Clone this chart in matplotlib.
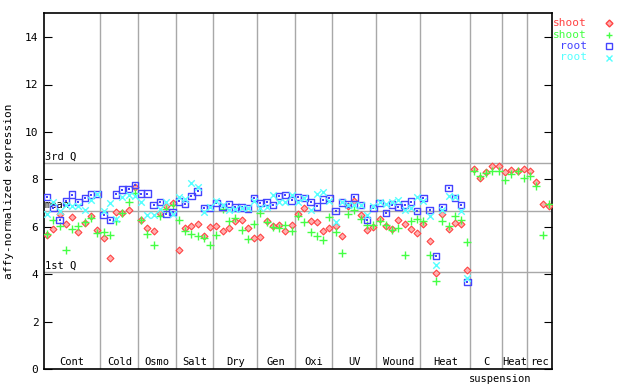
import numpy as np
import matplotlib
matplotlib.use("Agg")
import matplotlib.pyplot as plt

# group names and number of samples in each group
groups = ["Cont", "Cold", "Osmo", "Salt", "Dry", "Gen", "Oxi", "UV", "Wound", "Heat", "C", "Heat", "rec"]
group_sizes = [9, 6, 6, 6, 7, 6, 6, 7, 7, 8, 5, 4, 4]

nan = np.nan
shoot_a = [5.66, 5.92, 6.56, 6.13, 6.42, 5.78, 6.16, 6.45, 5.88,
           5.53, 4.68, 6.61, 6.58, 6.72, 7.70,
           6.30, 5.95, 5.81, 6.60, 6.86, 7.00,
           5.04, 5.95, 6.05, 6.14, 5.63, 5.99,
           6.05, 5.84, 5.95, 6.26, 6.30, 5.95, 5.53,
           5.57, 6.26, 6.05, 6.09, 5.84, 6.09,
           6.56, 6.80, 6.23, 6.20, 5.84, 5.95,
           6.05, 5.63, 6.89, 7.08, 6.51, 5.88, 5.99,
           6.34, 6.05, 5.92, 6.30, 6.13, 5.92, 5.75,
           6.13, 5.41, 4.05, 6.56, 5.91, 6.16, 6.13, 4.19,
           8.44, 8.06, 8.31, 8.55, 8.55,
           8.31, 8.41, 8.37, 8.44,
           8.37, 7.88, 6.98, 6.89]
shoot_b = [5.71, 6.28, 6.05, 5.04, 5.92, 6.05, 6.21, 6.37, 5.74,
           5.77, 5.66, 6.23, 6.58, 7.05, 7.43,
           6.31, 5.72, 5.24, 6.44, 6.75, 6.93,
           6.30, 5.81, 5.71, 5.63, 5.53, 5.22,
           5.67, 6.75, 6.23, 6.37, 5.88, 5.49, 6.13,
           6.58, 6.19, 6.00, 5.95, 6.09, 5.84,
           6.44, 6.20, 5.79, 5.63, 5.46, 6.42,
           5.79, 4.89, 6.56, 6.70, 6.33, 6.09, 6.09,
           6.26, 6.09, 5.88, 5.95, 4.81, 6.23, 6.33,
           6.26, 4.81, 3.72, 6.26, 6.02, 6.47, 6.30, 5.37,
           8.34, 8.16, 8.27, 8.36, 8.36,
           7.98, 8.24, 8.34, 8.06,
           8.16, 7.74, 5.66, 6.98]
root_a = [7.26, 6.79, 6.30, 7.08, 7.36, 7.05, 7.21, 7.36, 7.39,
          6.50, 6.30, 7.37, 7.57, 7.60, 7.77,
          7.40, 7.40, 6.92, 7.05, 6.55, 6.63,
          7.08, 6.96, 7.30, 7.50, 6.80, 6.80,
          7.01, 6.84, 6.96, 6.82, 6.82, 6.77, 7.22,
          7.01, 7.05, 6.92, 7.30, 7.34, 7.12,
          7.26, 7.22, 7.05, 6.86, 7.15, 7.22,
          6.67, 7.03, 6.96, 7.24, 6.92, 6.30, 6.80,
          7.01, 6.58, 6.94, 6.84, 6.94, 7.06, 6.67,
          7.22, 6.71, 4.78, 6.84, 7.64, 7.22, 6.92, 3.67,
          nan, nan, nan, nan, nan,
          nan, nan, nan, nan,
          nan, nan, nan, nan]
root_b = [6.55, 7.06, 6.65, 6.92, 6.90, 6.86, 6.71, 7.15, 7.38,
          6.68, 7.00, 6.32, 7.26, 7.36, 7.29,
          7.05, 6.51, 6.51, 6.75, 7.03, 6.56,
          7.26, 7.17, 7.85, 7.68, 6.63, 6.84,
          7.08, 6.94, 6.72, 6.75, 6.80, 6.80, 7.08,
          6.80, 6.84, 7.34, 7.05, 7.05, 7.34,
          7.03, 7.22, 6.72, 7.40, 7.47, 7.08,
          6.19, 7.05, 6.94, 6.94, 6.92, 6.51, 6.86,
          7.03, 6.98, 7.03, 7.15, 6.70, 6.78, 7.26,
          7.08, 6.44, 4.39, 6.72, 7.31, 7.24, 6.67, 3.84,
          nan, nan, nan, nan, nan,
          nan, nan, nan, nan,
          nan, nan, nan, nan]

q3, mean, q1 = 8.71, 6.66, 4.09

RED = "#ff4444"
GREEN = "#44ff44"
BLUE = "#4444ff"
CYAN = "#55ffff"
GRID = "#a8a8a8"

plt.rcParams["font.family"] = "DejaVu Sans Mono"

fig = plt.figure(figsize=(6.4, 3.84), dpi=100)
ax = fig.add_axes([44 / 640, 1 - 369.3 / 384, 508 / 640, 356 / 384])

n = len(shoot_a)
x = np.arange(n)
ax.set_xlim(-0.5, n - 0.5)
ax.set_ylim(0, 15)

# group separators and labels
edges = np.cumsum(group_sizes)
for e in edges[:-1]:
    ax.axvline(e - 0.5, color=GRID, lw=1, zorder=1)
starts = np.concatenate([[0], edges[:-1]])
for name, s, e in zip(groups, starts, edges):
    ax.text((s + e - 1) / 2, 0.3, name, ha="center", va="center", fontsize=7.5)
ax.text(72.2, -0.4, "suspension", ha="center", va="center", fontsize=7.5, clip_on=False)

# quartile / mean lines
for val, lab in [(q3, "3rd Q"), (mean, "mean"), (q1, "1st Q")]:
    ax.axhline(val, color=GRID, lw=1, zorder=1)
    ax.text(-0.4, val + 0.05, lab, ha="left", va="bottom", fontsize=7.5, zorder=2)

ax.scatter(x, shoot_a, marker="D", s=12, facecolor="#ffb0b0", edgecolor=RED, lw=0.8, zorder=3)
ax.scatter(x, shoot_b, marker="+", s=30, color=GREEN, lw=1.0, zorder=3)
ax.scatter(x, root_a, marker="s", s=22, facecolor="none", edgecolor=BLUE, lw=1.0, zorder=3)
ax.scatter(x, root_a, marker="s", s=1.5, color=BLUE, lw=0, zorder=3)
ax.scatter(x, root_b, marker="x", s=22, color=CYAN, lw=1.0, zorder=3)

ax.set_xticks([])
ax.set_yticks(np.arange(0, 15, 2))
ax.tick_params(axis="y", direction="in", length=6, labelsize=8, right=True, pad=4)
ax.set_ylabel("affy-normalized expression", fontsize=8, labelpad=8)
for sp in ax.spines.values():
    sp.set_linewidth(1.2)

# legend drawn outside the axes on the right
leg = [("shoot", RED, "D"), ("shoot", GREEN, "+"), ("root", BLUE, "s"), ("root", CYAN, "x")]
for k, (lab, col, mk) in enumerate(leg):
    yy = 1 - (23 + 11.5 * k) / 384
    fig.text(587 / 640, yy, lab, color=col, ha="right", va="center", fontsize=8)
    if mk == "D":
        fig.lines.append(plt.Line2D([609 / 640], [yy], marker=mk, ms=3.5, mfc="#ffb0b0", mec=col,
                                    ls="", transform=fig.transFigure, figure=fig))
    elif mk == "s":
        fig.lines.append(plt.Line2D([609 / 640], [yy], marker=mk, ms=4.5, mfc="none", mec=col,
                                    ls="", transform=fig.transFigure, figure=fig))
    else:
        fig.lines.append(plt.Line2D([609 / 640], [yy], marker=mk, ms=5, color=col, mew=1,
                                    ls="", transform=fig.transFigure, figure=fig))

fig.savefig("out.png", dpi=100)
